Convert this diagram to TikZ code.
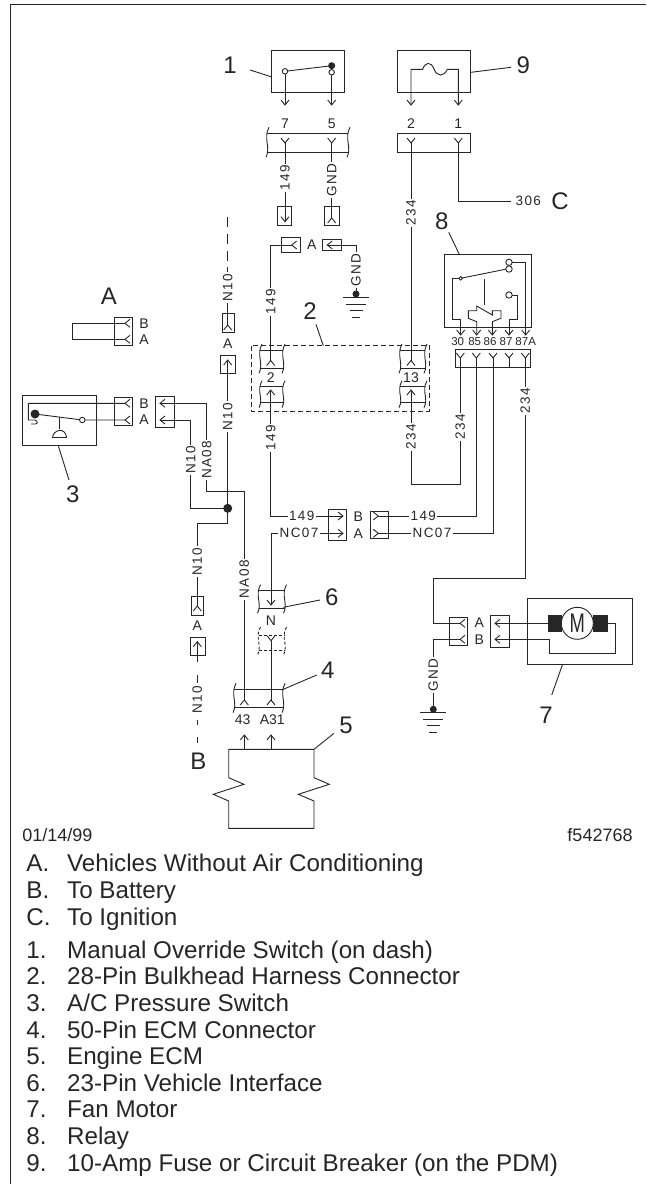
\documentclass[tikz,border=0pt]{standalone}
\usepackage{fontspec}
\setmainfont{Liberation Sans}
\newfontfamily\wirefont[LetterSpace=10]{Liberation Sans}
\tikzset{
  every picture/.style={line width=0.9pt,draw=ink},
  big/.style={font=\fontsize{24}{24}\selectfont,inner sep=0pt,text=ink},
  lab/.style={font=\fontsize{13.5}{13.5}\wirefont,fill=white,inner sep=1.5pt,text=ink},
  vlab/.style={lab,rotate=90},
  pin/.style={font=\fontsize{14}{14}\selectfont,inner sep=0pt,text=ink},
  pinS/.style={font=\fontsize{11.5}{11.5}\selectfont,inner sep=0pt,text=ink},
  legend/.style={font=\fontsize{24.2}{24.2}\selectfont,inner sep=0pt,anchor=base west,text=ink},
  small/.style={font=\fontsize{18}{18}\selectfont,inner sep=0pt,text=ink},
  dot/.style={circle,fill=ink,draw=none,minimum size=9pt,inner sep=0pt},
  ring/.style={circle,fill=white,draw=ink,minimum size=6.4pt,inner sep=0pt},
  ringS/.style={circle,fill=white,draw=ink,minimum size=3.6pt,inner sep=0pt},
}
\definecolor{ink}{HTML}{262626}
\newcommand{\tipD}[2]{\draw (#1-4,#2-5)--(#1,#2)--(#1+4,#2-5);}
\newcommand{\tipU}[2]{\draw (#1-4,#2+5)--(#1,#2)--(#1+4,#2+5);}
\newcommand{\tipL}[2]{\draw (#1+5,#2-4)--(#1,#2)--(#1+5,#2+4);}
\newcommand{\tipR}[2]{\draw (#1-5,#2-4)--(#1,#2)--(#1-5,#2+4);}
% wavy-ended harness strip: x1,x2,ytop,ybot
\newcommand{\sideW}[3]{\draw (#1+2,#2-6) .. controls (#1-4,#2+5) and (#1+4,#3-5) .. (#1-1,#3+5);}
\newcommand{\wstrip}[4]{\draw (#1,#3)--(#2,#3) (#1,#4)--(#2,#4); \sideW{#1}{#3}{#4}\sideW{#2}{#3}{#4}}
\newcommand{\groundsym}[2]{\draw (#1-13,#2)--(#1+13,#2) (#1-10,#2+6.7)--(#1+10,#2+6.7) (#1-6.5,#2+13)--(#1+6.5,#2+13) (#1-4,#2+19.5)--(#1+4,#2+19.5);}
\begin{document}
\begin{tikzpicture}[x=1pt,y=-1pt,line cap=butt,line join=miter]
\useasboundingbox (0,0) rectangle (646,1184);
% page frame
\draw[line width=1.2pt] (10.3,1184)--(10.3,4.8)--(646,4.8);

% ---- component 1
\draw (271,50.7) rectangle (344,92.3);
\draw (285,71.3)--(285,105) (331.7,69)--(331.7,105);
\tipD{285}{105}\tipD{331.7}{105}
\draw (285,71.3)--(331.7,65.7);
\node[ring,minimum size=5.5pt] (s1a) at (285,71.3) {};
\node[ring,minimum size=5.5pt] (s1b) at (331.7,72.3) {};
\node[dot,minimum size=7pt] (s1c) at (331.7,65.7) {};
\node[big] (n1) at (230,65) {1};
\coordinate (n1e) at (250,70);
\draw (n1e)--(271,76.7);
\node[pin] (p7) at (285,123.3) {7};
\node[pin] (p5) at (331.7,123.3) {5};
\wstrip{267}{348}{133.3}{152.3}
\tipD{285}{143}\tipD{331.7}{143}

% ---- component 9
\draw (397.3,50.7) rectangle (470.3,92.3);
\draw (411,105)--(411,69.3)--(422.7,69.3) .. controls (425,62) and (431,61) .. (434,69) .. controls (437,77) and (444,77) .. (447.3,69.3) -- (458.3,69.3)--(458.3,105);
\tipD{411}{105}\tipD{458.3}{105}
\node[big] (n9) at (523.3,65.7) {9};
\draw (471,72.3)--(511,67.3);
\node[pin] (p2) at (411,123.3) {2};
\node[pin] (p1) at (458.3,123.3) {1};
\draw (397.3,133.3) rectangle (470.3,152.3);
\tipD{411}{143}\tipD{458.3}{143}
\draw (458.3,143)--(458.3,201)--(510.7,201);
\node[font=\fontsize{13.5}{13.5}\wirefont,text=ink,inner sep=0pt] (w306) at (528.3,201) {306};
\node[big] (nC) at (560,201) {C};

% ---- 149 / GND upper mated connector
\draw (285,143)--(285,221.7);
\node[vlab] (w149a) at (285,178) {149};
\draw (277.3,206) rectangle (291,225.7);
\tipD{285}{221.7}
\draw (331.7,143)--(331.7,218);
\node[vlab] (gnda) at (331.7,179.7) {GND};
\draw (324.3,206) rectangle (339.3,225.7);
\tipU{331.7}{218}
\draw (281.7,237.3) rectangle (300.7,252);
\tipL{291.7}{245}
\node[pin] (lA1) at (311.7,245) {A};
\draw (322.7,239.3) rectangle (341.7,250);
\tipL{327.3}{245}
\draw (327.3,245)--(356,245)--(356,294);
\node[vlab] (gndb) at (356,270) {GND};
\node[dot,minimum size=7pt] (g1) at (356,294) {};
\groundsym{356}{297.5}
\draw (291.7,245)--(270.7,245)--(270.7,360.5);
\node[vlab] (w149b) at (270.7,301.7) {149};

% ---- bulkhead connector 2
\draw[dashed,dash pattern=on 5pt off 3pt] (251.7,345.7) rectangle (429.3,411);
\wstrip{260}{283}{350}{368.3}
\wstrip{260}{283}{386.7}{402.7}
\wstrip{400}{425}{350}{368.3}
\wstrip{400}{425}{386.7}{402.7}
\tipU{270.7}{360.5}\tipU{411}{360.5}
\tipU{270.7}{390}\tipU{411}{390}
\node[pin] (p2b) at (270.7,377.5) {2};
\node[pin] (p13) at (411,377.5) {13};
\node[big] (n2) at (310,310.7) {2};
\draw (316,324.3)--(323.3,345.7);

% 234 to bulkhead 13
\draw (411,143)--(411,360.5);
\node[vlab] (w234a) at (411,212.7) {234};
% 149 lower
\draw (270.7,390)--(270.7,516)--(343,516);
\tipR{343}{516}
\node[vlab] (w149c) at (270.7,438) {149};
\node[lab] (w149d) at (301.7,516) {149};
% NC07 left
\draw (343,533.3)--(271,533.3)--(271,605);
\tipR{343}{533.3}
\tipD{271}{605}
\node[lab] (nc07a) at (299,533.3) {NC07};
\draw (328.3,509.3) rectangle (346.7,540);
\node[pin] (lB2) at (358.3,516.7) {B};
\node[pin] (lA2) at (358.3,533.3) {A};
\draw (370,511) rectangle (388.3,538.3);
\tipR{378.3}{516}\tipR{378.3}{533.3}
\draw (378.3,516)--(476.3,516)--(476.3,358);
\node[lab] (w149e) at (423.3,516) {149};
\draw (378.3,533.3)--(493,533.3)--(493,358);
\node[lab] (nc07b) at (432,533.3) {NC07};
% 234 from 13 lower up to relay 30
\draw (411,390)--(411,484)--(460.3,484)--(460.3,358);
\node[vlab] (w234b) at (411,436.7) {234};
\node[vlab] (w234c) at (460.3,426.7) {234};

% ---- relay 8
\draw (444.3,254.3) rectangle (531,327.7);
\node[big] (n8) at (441.7,221.7) {8};
\draw (448.7,232.3)--(459.3,254.3);
\draw (460.7,278.3)--(452.3,278.3)--(452.3,319.3)--(460.7,319.3)--(460.7,335);
\draw (460.7,278.3)--(506.7,269);
\draw (512,262.3)--(525.7,262.3)--(525.7,335);
\draw (512,295)--(517.3,295)--(517.3,319)--(509,319)--(509,335);
\draw (484.3,279.3)--(484.3,305);
\draw (476.7,335)--(476.7,321.7)--(468.3,318.3)--(468.3,310.7)--(476.7,310.7)--(476.7,306)--(492.3,315)--(492.3,310.7)--(501,310.7)--(501,318.3)--(492.3,321.7)--(492.3,335);
\node[ringS] (r30) at (460.7,278.3) {};
\node[ring] (ra) at (509,262.3) {};
\node[ring] (rb) at (509,269) {};
\node[ring] (rc) at (509,295) {};
\tipD{460.7}{335}\tipD{476.7}{335}\tipD{492.3}{335}\tipD{509}{335}\tipD{525.7}{335}
\node[pinS] (k30) at (457.7,341.7) {30};
\node[pinS] (k85) at (474.7,341.7) {85};
\node[pinS] (k86) at (490,341.7) {86};
\node[pinS] (k87) at (506,341.7) {87};
\node[pinS] (k87a) at (525.7,341.7) {87A};
\draw (455,349.3) rectangle (530.7,367.7);
\tipD{460.3}{358}\tipD{476.3}{358}\tipD{493}{358}\tipD{509}{358}\tipD{525.3}{358}
\draw (509,358)--(509,367.7);
\draw (525.3,358)--(525.3,578.3)--(433.3,578.3)--(433.3,623.3)--(460,623.3);
\node[vlab] (w234d) at (525.3,400.7) {234};
\tipL{460}{623.3}\tipL{460}{639.3}
\draw (460,639.3)--(433.3,639.3)--(433.3,709.3);
\node[vlab] (gndc) at (433.3,675) {GND};
\node[dot,minimum size=7pt] (g2) at (433.3,709.3) {};
\groundsym{433.3}{712.7}

% ---- fan motor 7
\draw (449.3,617.3) rectangle (467.7,645.7);
\node[pin] (lA3) at (479.3,622.7) {A};
\node[pin] (lB3) at (479.3,640) {B};
\draw (490.7,615.7) rectangle (509.3,647.3);
\tipL{495}{623.3}\tipL{495}{639.3}
\draw (527.3,598.3) rectangle (632.7,664);
\draw (495,623.3)--(548.3,623.3);
\draw (495,639.3)--(549,639.3)--(549,653.3)--(615,653.3)--(615,623.3)--(606.7,623.3);
\draw[fill=ink] (548.3,615) rectangle (561,631.7);
\draw[fill=ink] (593.3,615) rectangle (607.3,631.7);
\node[circle,draw=ink,fill=white,minimum size=32pt,inner sep=0pt,font=\fontsize{27}{27}\selectfont,text=ink] (mot) at (577.3,623.3) {\scalebox{0.68}[1]{M}};
\node[big] (n7) at (546,715) {7};
\draw (562.7,664)--(551.7,695);

% ---- A: without A/C
\node[big] (nA) at (109,296.7) {A};
\draw (114,317.3) rectangle (132.3,345.7);
\draw (125,323.3)--(72.3,323.3)--(72.3,339.3)--(125,339.3);
\tipL{125}{323.3}\tipL{125}{339.3}
\node[pin] (lB4) at (144,323.3) {B};
\node[pin] (lA4) at (144,339.3) {A};

% ---- pressure switch 3
\draw (22.7,395) rectangle (96,445.7);
\draw (125,403.3)--(28.3,403.3)--(28.3,420)--(35,420) .. controls (38,421) and (38,424) .. (35,424)--(31,424);
\draw (35,414)--(82.3,420)--(125,420);
\draw (59.3,417)--(59.3,428.5);
\draw (51.7,437.7)--(66.7,437.7);
\draw (52.5,437.7) .. controls (53,430) and (65,426) .. (66.7,437.7);
\node[dot] (s3a) at (35,414) {};
\node[ring,minimum size=5.5pt] (s3b) at (82.3,420) {};
\draw (114,397.3) rectangle (132.3,425.7);
\tipL{125}{403.3}\tipL{125}{420}
\node[pin] (lB5) at (144,403.3) {B};
\node[pin] (lA5) at (144,420) {A};
\node[big] (n3) at (72.7,494) {3};
\draw (58.3,445.7)--(69,480);
\draw (155.7,396) rectangle (174.3,427.3);
\tipL{160}{403.3}\tipL{160}{420}
\draw (160,403.3)--(206.7,403.3)--(206.7,491.7)--(244.3,491.7)--(244.3,700);
\draw (160,420)--(190.7,420)--(190.7,508.3)--(227.7,508.3);
\node[vlab] (n10a) at (190.7,460) {N10};
\node[vlab] (na08a) at (206.7,460) {NA08};
\node[vlab] (na08b) at (244.3,579.3) {NA08};

% ---- N10 main vertical
\draw (227.7,217)--(227.7,227) (227.7,234)--(227.7,244) (227.7,250.7)--(227.7,260.7) (227.7,266.7)--(227.7,271.7);
\draw (227.7,301)--(227.7,325);
\node[vlab] (n10b) at (227.7,288) {N10};
\draw (222.3,313.3) rectangle (234,332.3);
\tipU{227.7}{325}
\node[pin] (lA6) at (227.7,343.3) {A};
\draw (220.3,355) rectangle (235.7,373.3);
\tipU{227.7}{360}
\draw (227.7,360)--(227.7,523.3)--(197.3,523.3)--(197.3,606);
\node[vlab] (n10c) at (227.7,416.7) {N10};
\node[dot] (j1) at (227.7,508.3) {};
\node[vlab] (n10d) at (197.3,561.7) {N10};
\draw (191.7,596) rectangle (203.3,615);
\tipU{197.3}{606}
\node[pin] (lA7) at (197.3,626) {A};
\draw (190,637.3) rectangle (205,655);
\tipU{197.3}{641.7}
\draw (197.3,641.7)--(197.3,661.7);
\draw (197.3,675)--(197.3,683) (197.3,720)--(197.3,725) (197.3,736.7)--(197.3,743);
\node[vlab] (n10e) at (197.3,700) {N10};
\node[big] (nB) at (198.3,761.7) {B};

% ---- vehicle interface 6
\wstrip{258.5}{284.5}{590.7}{608.3}
\node[big] (n6) at (331.7,597.3) {6};
\draw (283.3,607.3)--(320,600);
\node[pin] (lN) at (271,621) {N};
\begin{scope}[densely dashed]
\draw (258.5,635)--(284.5,635) (258.5,650.7)--(284.5,650.7);
\sideW{258.5}{633}{650}
\sideW{284.5}{633}{650}
\end{scope}
\tipD{271}{640.7}
\draw (271,640.7)--(271,700);

% ---- ECM connector 4
\wstrip{234}{283}{689.3}{707.7}
\tipU{244.3}{700}\tipU{271}{700}
\node[big] (n4) at (327.7,670) {4};
\draw (281.7,690)--(316.7,675);
\node[pin] (p43) at (242.7,720) {43};
\node[pin] (pA31) at (272.3,720) {A31};

% ---- ECM 5
\draw (244.3,749.3)--(244.3,735) (271,749.3)--(271,735);
\tipU{244.3}{735}\tipU{271}{735}
\draw (228.7,749.3)--(314,749.3)--(314,777.7)--(329.3,784.3)--(298.3,794.3)--(314,801)--(314,828.3)--(228.7,828.3)--(228.7,801)--(213.3,794.3)--(244,784.3)--(228.7,777.7)--cycle;
\node[big] (n5) at (346,725) {5};
\draw (314,749.3)--(334,733.3);

% ---- legend
\node[small,anchor=base west] (date) at (22,841) {01/14/99};
\node[small,anchor=base east] (fig) at (633,841) {f542768};
\foreach \k/\l/\t/\y in {
 a/A./Vehicles Without Air Conditioning/871.8,
 b/B./To Battery/898.4,
 c/C./To Ignition/925,
 d/1./Manual Override Switch (on dash)/958.2,
 e/2./28-Pin Bulkhead Harness Connector/984.8,
 f/3./A\slash C Pressure Switch/1011.4,
 g/4./50-Pin ECM Connector/1038,
 h/5./Engine ECM/1064.6,
 i/6./23-Pin Vehicle Interface/1091.2,
 j/7./Fan Motor/1117.8,
 k/8./Relay/1144.4,
 l/9./10-Amp Fuse or Circuit Breaker (on the PDM)/1171}{
 \node[legend] (ln\k) at (26,\y) {\l};
 \node[legend] (lt\k) at (66.7,\y) {\t};
}
\end{tikzpicture}
\end{document}
